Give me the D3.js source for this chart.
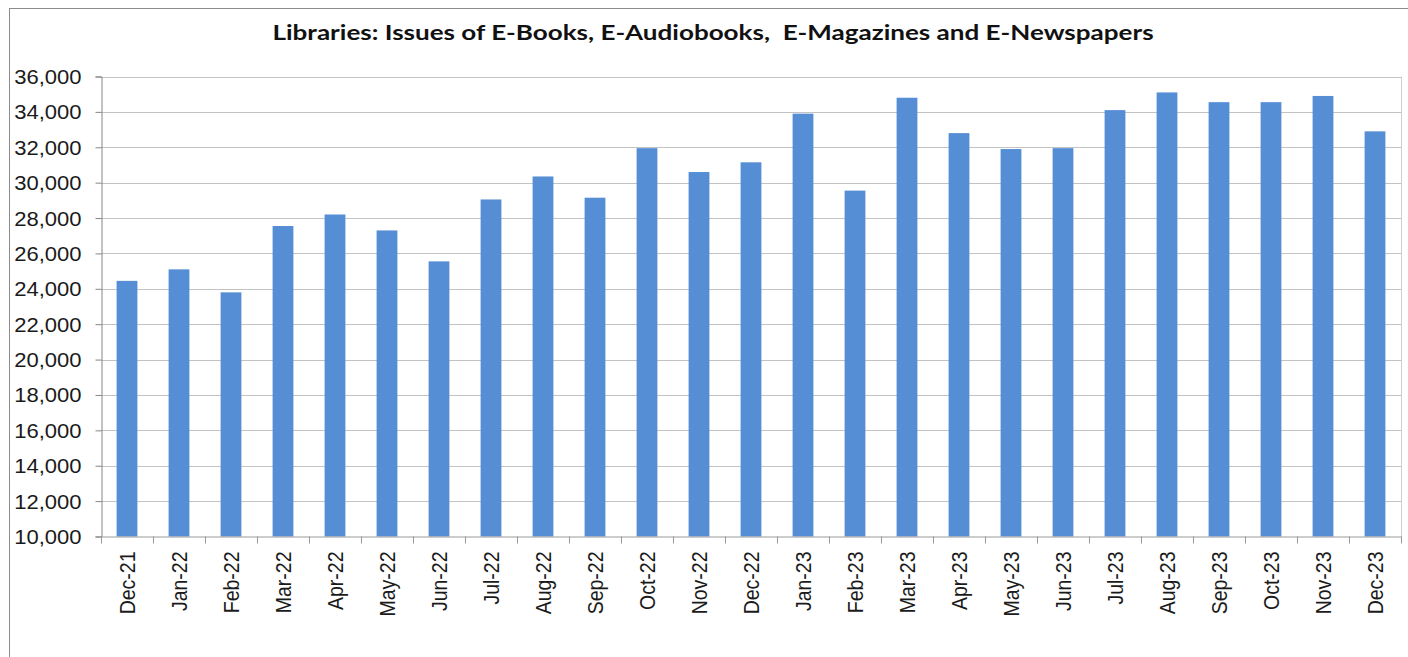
<!DOCTYPE html>
<html>
<head>
<meta charset="utf-8">
<script src="https://cdn.jsdelivr.net/npm/d3@7/dist/d3.min.js"></script>
<style>
  html, body { margin: 0; padding: 0; background: #ffffff; }
  svg { display: block; }
</style>
</head>
<body>
<svg id="chart" width="1408" height="657"></svg>
<script>
const title = "Libraries: Issues of E-Books, E-Audiobooks,  E-Magazines and E-Newspapers";
const categories = ["Dec-21","Jan-22","Feb-22","Mar-22","Apr-22","May-22","Jun-22","Jul-22","Aug-22","Sep-22","Oct-22","Nov-22","Dec-22","Jan-23","Feb-23","Mar-23","Apr-23","May-23","Jun-23","Jul-23","Aug-23","Sep-23","Oct-23","Nov-23","Dec-23"];
const values = [24450,25100,23800,27550,28200,27300,25550,29050,30350,29150,31950,30600,31150,33900,29550,34800,32800,31900,31950,34100,35100,34550,34550,34900,32900];
const yTicks = [10000,12000,14000,16000,18000,20000,22000,24000,26000,28000,30000,32000,34000,36000];

const STRETCH = 1.13; // horizontal stretch of the reference's text
const TITLE_STRETCH = 1.27;
const svg = d3.select("#chart");
const pLeft = 101, pRight = 1401, pTop = 76.5, pBottom = 536.5;

// outer chart border
svg.append("rect").attr("x", 9.5).attr("y", 8.5).attr("width", 1420).attr("height", 680)
  .attr("fill", "#fff").attr("stroke", "#8c8c8c").attr("stroke-width", 1);

const x = d3.scaleBand().domain(categories).range([pLeft, pRight]).paddingInner(0.6).paddingOuter(0.3);
const y = d3.scaleLinear().domain([yTicks[0], yTicks[yTicks.length - 1]]).range([pBottom, pTop]);

// gridlines
svg.append("g").selectAll("line").data(yTicks.filter(d => d !== yTicks[0])).join("line")
  .attr("x1", pLeft).attr("x2", pRight)
  .attr("y1", d => Math.round(y(d)) + 0.5).attr("y2", d => Math.round(y(d)) + 0.5)
  .attr("stroke", "#c3c3c3").attr("stroke-width", 1.2);

// plot area right border
svg.append("line").attr("x1", pRight + 0.5).attr("x2", pRight + 0.5).attr("y1", y(yTicks[yTicks.length-1])).attr("y2", pBottom)
  .attr("stroke", "#cfcfcf");

// bars
svg.append("g").selectAll("rect").data(values).join("rect")
  .attr("x", (d, i) => x(categories[i]))
  .attr("width", x.bandwidth())
  .attr("y", d => y(d))
  .attr("height", d => y(yTicks[0]) - y(d))
  .attr("fill", "#558ed5");

// y axis
const yAxis = d3.axisLeft(y).tickValues(yTicks).tickSize(6).tickPadding(11.7)
  .tickFormat(d3.format(","));
const gy = svg.append("g").attr("transform", `translate(${pLeft + 0.5},0)`).call(yAxis);
gy.select(".domain").attr("stroke", "#868686");
gy.selectAll(".tick line").attr("stroke", "#868686");
gy.selectAll(".tick text")
  .attr("font-family", "'Liberation Sans', Arial, sans-serif")
  .attr("font-size", 19.5).attr("fill", "#1a1a1a")
  .attr("dy", "0.36em")
  .attr("transform", `scale(${STRETCH},1)`);

// x axis line
svg.append("line").attr("x1", pLeft).attr("x2", pRight + 1).attr("y1", pBottom + 0.5).attr("y2", pBottom + 0.5)
  .attr("stroke", "#9a9a9a");

// x category boundary ticks
const bounds = categories.map(c => x(c) - x.step() * x.paddingInner() / 2);
bounds.push(pRight);
svg.append("g").selectAll("line").data(bounds).join("line")
  .attr("x1", d => Math.round(d) + 0.5).attr("x2", d => Math.round(d) + 0.5)
  .attr("y1", pBottom).attr("y2", pBottom + 7)
  .attr("stroke", "#9a9a9a");

// x labels
svg.append("g").selectAll("g").data(categories).join("g")
  .attr("transform", d => `translate(${x(d) + x.bandwidth() / 2},${pBottom + 15})`)
  .append("text")
  .attr("transform", `scale(${STRETCH},1) rotate(-90)`)
  .attr("text-anchor", "end")
  .attr("dy", "0.36em")
  .attr("font-family", "'Liberation Sans', Arial, sans-serif")
  .attr("font-size", 19.5).attr("fill", "#1a1a1a")
  .text(d => d);

// title
svg.append("g").attr("transform", `translate(713,39.5)`)
  .append("text")
  .attr("transform", `scale(${TITLE_STRETCH},1)`)
  .attr("text-anchor", "middle")
  .attr("font-family", "Lato, 'Open Sans', sans-serif")
  .attr("font-weight", "bold")
  .attr("font-size", 20.5)
  .attr("fill", "#111")
  .style("white-space", "pre")
  .text(title);
</script>
</body>
</html>
